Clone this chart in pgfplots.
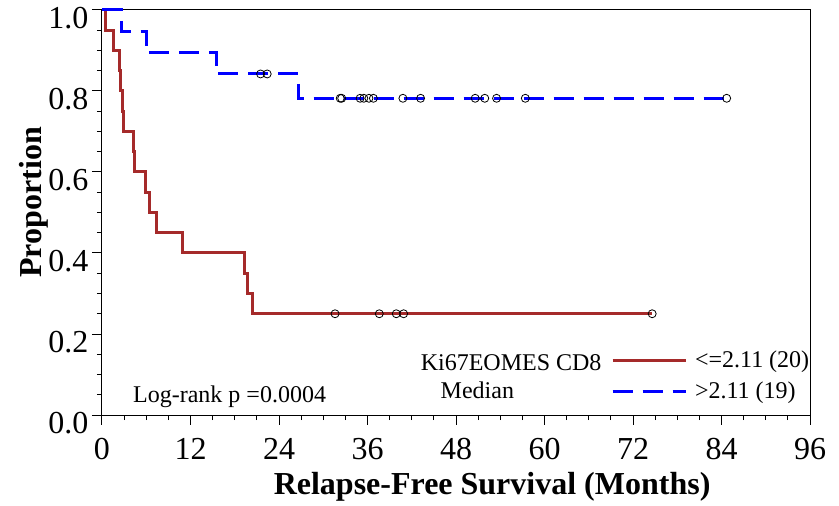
\documentclass[border=0pt]{standalone}
\usepackage{fontspec}
\setmainfont{Liberation Serif}
\usepackage{pgfplots}
\pgfplotsset{compat=1.18}
\definecolor{kmred}{RGB}{165,42,42}
\definecolor{kmblue}{RGB}{0,0,255}
\begin{document}
\begin{tikzpicture}
\begin{axis}[
  scale only axis, width=708bp, height=405bp,
  xmin=0, xmax=96, ymin=0, ymax=1,
  xtick={0,12,24,36,48,60,72,84,96},
  ytick={0,0.2,0.4,0.6,0.8,1.0},
  minor x tick num=3, minor y tick num=3,
  tick pos=left, tick align=outside,
  major tick length=10bp, minor tick length=5bp,
  axis line style={line width=1bp},
  every tick/.style={line width=1bp, black},
  ticklabel style={font=\fontsize{32bp}{36bp}\selectfont},
  xticklabel style={yshift=-10bp},
  /pgf/number format/assume math mode=true,
  yticklabel style={yshift=-8bp, /pgf/number format/fixed, /pgf/number format/fixed zerofill, /pgf/number format/precision=1},
  xlabel={\textbf{Relapse-Free Survival (Months)}},
  ylabel={\textbf{Proportion}},
  label style={font=\fontsize{32bp}{36bp}\selectfont},
  xlabel style={at={(axis description cs:0.551,-0.178)}, anchor=center},
  ylabel style={at={(axis description cs:-0.097,0.525)}, anchor=center},
  clip=false,
  legend style={at={(axis cs:69,0.163)}, anchor=north west, draw=none, fill=none,
    font=\fontsize{24bp}{28bp}\selectfont, inner sep=0pt, row sep=9bp,
    nodes={inner sep=2bp},
    /tikz/every odd column/.style={column sep=6bp}},
  legend cell align=left,
  legend image code/.code={\draw[#1] (0bp,0bp) -- (73bp,0bp);},
]
\addplot[const plot, color=kmred, line width=3bp] coordinates {
(0,1.0) (0.41,0.95) (1.53,0.90) (2.44,0.85) (2.54,0.80) (2.76,0.75) (2.85,0.70)
(4.25,0.65) (4.44,0.60) (5.84,0.55) (6.42,0.50) (7.43,0.45) (10.9,0.40)
(19.3,0.35) (19.7,0.30) (20.4,0.25) (74.6,0.25)};
\addlegendentry{<=2.11 (20)}
\addplot[const plot, color=kmblue, line width=3bp, dash pattern=on 20bp off 10bp] coordinates {
(0,1.0) (2.58,0.9474) (5.97,0.8947) (15.5,0.8421) (26.6,0.7820) (84.7,0.7820)};
\addlegendentry{>2.11 (19)}
\addplot[only marks, mark=o, mark size=4bp, black, mark options={line width=0.8bp}, forget plot] coordinates {
(31.6,0.25) (37.6,0.25) (39.9,0.25) (40.9,0.25) (74.6,0.25)};
\addplot[only marks, mark=o, mark size=4bp, black, mark options={line width=0.8bp}, forget plot] coordinates {
(21.5,0.8421) (22.4,0.8421)
(32.3,0.782) (32.5,0.782) (35.0,0.782) (35.5,0.782) (36.2,0.782) (36.8,0.782)
(40.8,0.782) (43.2,0.782) (50.6,0.782) (51.9,0.782) (53.5,0.782) (57.4,0.782) (84.7,0.782)};
\node[anchor=east, font=\fontsize{24bp}{28bp}\selectfont] at (axis cs:68.2,0.13) {Ki67EOMES CD8};
\node[font=\fontsize{24bp}{28bp}\selectfont] at (axis cs:50.9,0.062) {Median};
\node[font=\fontsize{24bp}{28bp}\selectfont] at (axis cs:17.3,0.045) {Log-rank p =0.0004};
\end{axis}
\pgfresetboundingbox
\path ([xshift=-102bp,yshift=-91bp]current axis.south west) rectangle ([xshift=29bp,yshift=10bp]current axis.north east);
\end{tikzpicture}
\end{document}
